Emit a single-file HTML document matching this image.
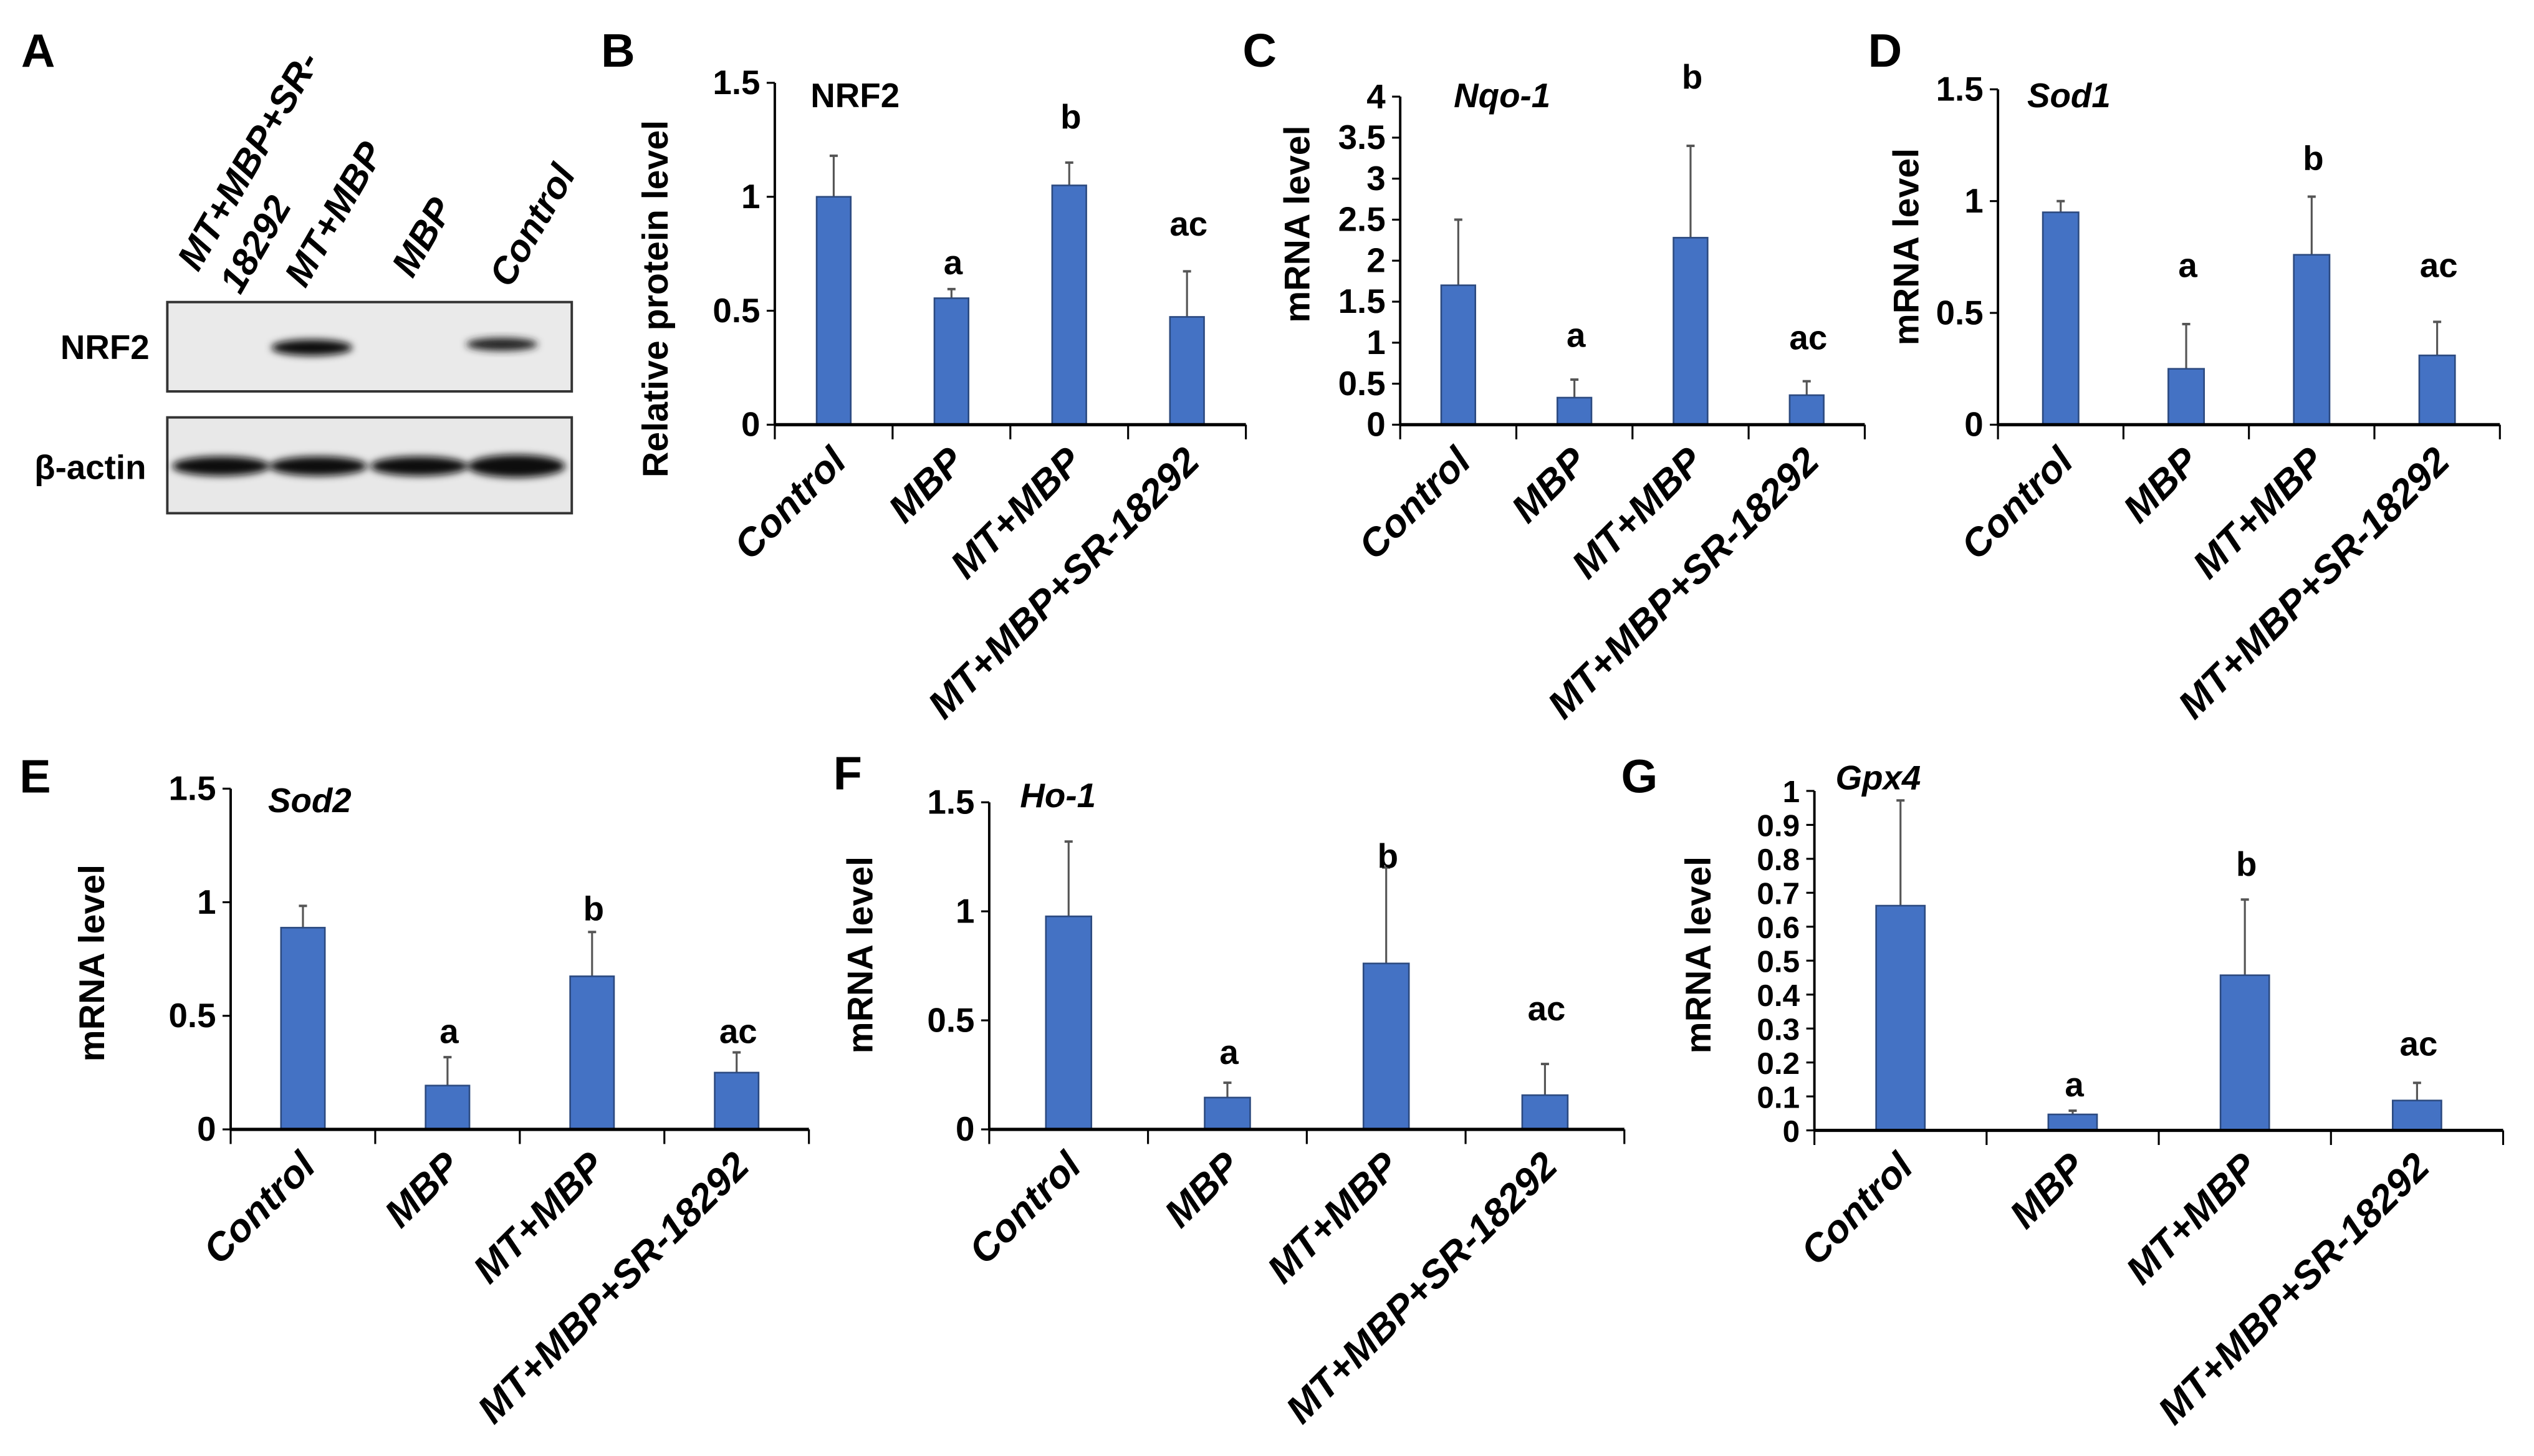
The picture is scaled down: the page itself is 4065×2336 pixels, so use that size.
<!DOCTYPE html>
<html><head><meta charset="utf-8">
<style>
html,body{margin:0;padding:0;background:#fff;}
svg{display:block;font-family:"Liberation Sans",Arial,sans-serif;}
</style></head>
<body>
<svg id="fig" width="4065" height="2336" viewBox="0 0 1560 896.5" preserveAspectRatio="none" xmlns="http://www.w3.org/2000/svg">
  <g>
    <text x="13" y="41" font-size="29" font-weight="bold">A</text>
    <g font-size="23" font-weight="bold" font-style="italic">
      <text transform="translate(122,168) rotate(-60)">MT+MBP+SR-</text>
      <text transform="translate(148,182) rotate(-60)">18292</text>
      <text transform="translate(188,178) rotate(-60)">MT+MBP</text>
      <text transform="translate(254,172) rotate(-60)">MBP</text>
      <text transform="translate(314,178) rotate(-60)">Control</text>
    </g>
    <text x="92" y="221" font-size="21" font-weight="bold" text-anchor="end">NRF2</text>
    <text x="90" y="295" font-size="21" font-weight="bold" text-anchor="end">β-actin</text>
    <defs>
      <filter id="blur" x="-20%" y="-50%" width="140%" height="200%"><feGaussianBlur stdDeviation="2.2"/></filter>
    </defs>
    <rect x="103" y="186" width="249" height="55" fill="#eaeaea" stroke="#333" stroke-width="1.5"/>
    <ellipse cx="192" cy="214" rx="25" ry="5" fill="#111" filter="url(#blur)"/>
    <ellipse cx="309" cy="212" rx="22" ry="4" fill="#222" filter="url(#blur)"/>
    <rect x="103" y="257" width="249" height="59" fill="#e8e8e8" stroke="#333" stroke-width="1.5"/>
    <g filter="url(#blur)" fill="#111">
      <ellipse cx="136" cy="287" rx="30" ry="6"/>
      <ellipse cx="196" cy="287" rx="30" ry="6"/>
      <ellipse cx="258" cy="287" rx="30" ry="6"/>
      <ellipse cx="318" cy="287" rx="30" ry="7"/>
    </g>
  </g>
</svg>
<script>
const categories = ["Control","MBP","MT+MBP","MT+MBP+SR-18292"];
// Panel B
const bValues = [1.0, 0.555, 1.05, 0.473];
const bErrors = [0.18, 0.04, 0.10, 0.20];
const bLetters = ["", "a", "b", "ac"];
const bLetterVals = [null, 0.66, 1.3, 0.83];
const bTicks = ["0","0.5","1","1.5"];
// Panel C
const cValues = [1.70, 0.33, 2.28, 0.36];
const cErrors = [0.80, 0.22, 1.12, 0.17];
const cLetters = ["", "a", "b", "ac"];
const cLetterVals = [null, 0.95, 4.1, 0.92];
const cTicks = ["0","0.5","1","1.5","2","2.5","3","3.5","4"];
// Panel D
const dValues = [0.95, 0.25, 0.76, 0.31];
const dErrors = [0.05, 0.20, 0.26, 0.15];
const dLetters = ["", "a", "b", "ac"];
const dLetterVals = [null, 0.66, 1.14, 0.66];
const dTicks = ["0","0.5","1","1.5"];
// Panel E
const eValues = [0.888, 0.193, 0.674, 0.25];
const eErrors = [0.096, 0.125, 0.195, 0.089];
const eLetters = ["", "a", "b", "ac"];
const eLetterVals = [null, 0.38, 0.92, 0.38];
const eTicks = ["0","0.5","1","1.5"];
// Panel F
const fValues = [0.977, 0.146, 0.761, 0.157];
const fErrors = [0.343, 0.068, 0.44, 0.143];
const fLetters = ["", "a", "b", "ac"];
const fLetterVals = [null, 0.3, 1.2, 0.5];
const fTicks = ["0","0.5","1","1.5"];
// Panel G
const gValues = [0.662, 0.047, 0.457, 0.088];
const gErrors = [0.31, 0.011, 0.223, 0.052];
const gLetters = ["", "a", "b", "ac"];
const gLetterVals = [null, 0.1, 0.75, 0.22];
const gTicks = ["0","0.1","0.2","0.3","0.4","0.5","0.6","0.7","0.8","0.9","1"];

const NS = "http://www.w3.org/2000/svg";
const svg = document.getElementById("fig");
function mk(tag, attrs, parent){
  const e = document.createElementNS(NS, tag);
  for (const k in attrs) e.setAttribute(k, attrs[k]);
  (parent||svg).appendChild(e);
  return e;
}

function panel(cfg){
  const g = mk("g", {});
  
  
  const {x0, x1, yTop, y0, max} = cfg;
  const yScale = v => y0 - (v / max) * (y0 - yTop);
  const step = (x1 - x0) / categories.length;
  const xCenter = i => x0 + step * (i + 0.5);
  const pl = mk("text", {x: cfg.lx, y: cfg.ly, "font-size": 29, "font-weight": "bold"}, g);
  pl.textContent = cfg.id.toUpperCase();
  
  
  const ya = mk("line", {x1: x0, y1: yTop, x2: x0, y2: y0, stroke: "#000", "stroke-width": 1.5}, g);
  
  
  cfg.ticks.forEach((t) => {
    const v = parseFloat(t);
    const y = yScale(v);
    const tk = mk("line", {x1: x0 - 5, y1: y, x2: x0, y2: y, stroke: "#000", "stroke-width": 1.2}, g);
    
    
    const tl = mk("text", {x: x0 - 9, y: y + 7, "font-size": cfg.tickFont || 21, "font-weight": "bold", "text-anchor": "end"}, g);
    tl.textContent = t;
    
    
  });
  cfg.values.forEach((v, i) => {
    const cx = xCenter(i);
    const top = yScale(v + cfg.errors[i]);
    const eb = mk("line", {x1: cx, y1: yScale(v), x2: cx, y2: top, stroke: "#555", "stroke-width": 1.2}, g);
    
    
    const ec = mk("line", {x1: cx - 2.5, y1: top, x2: cx + 2.5, y2: top, stroke: "#555", "stroke-width": 1.5}, g);
    
    
    const b = mk("rect", {x: cx - cfg.bw / 2, y: yScale(v), width: cfg.bw, height: y0 - yScale(v), fill: "#4472C4", stroke: "#2c4a80", "stroke-width": 1}, g);
    
    
    if (cfg.letters[i]) {
      const lt = mk("text", {x: cx + 1, y: yScale(cfg.letterVals[i]), "font-size": 21, "font-weight": "bold", "text-anchor": "middle"}, g);
      lt.textContent = cfg.letters[i];
      
      
    }
    const cl = mk("text", {transform: `translate(${cx + 9},${y0 + 24}) rotate(-45)`, "font-size": 24, "font-weight": "bold", "font-style": "italic", "text-anchor": "end"}, g);
    cl.textContent = categories[i];
    
    
  });
  const xa = mk("line", {x1: x0, y1: y0, x2: x1, y2: y0, stroke: "#000", "stroke-width": 2}, g);
  
  
  for (let i = 0; i <= categories.length; i++) {
    const xt = mk("line", {x1: x0 + step * i, y1: y0, x2: x0 + step * i, y2: y0 + 9, stroke: "#000", "stroke-width": 1.2}, g);
    
    
  }
  const tt = mk("text", {x: cfg.tx, y: cfg.ty, "font-size": 21, "font-weight": "bold", "font-style": cfg.italic ? "italic" : "normal"}, g);
  tt.textContent = cfg.title;
  
  
  const yt = mk("text", {transform: `translate(${cfg.ytx},${cfg.yty}) rotate(-90)`, "font-size": 22, "font-weight": "bold", "text-anchor": "middle"}, g);
  yt.textContent = cfg.ytitle;
  
  
}

panel({id:"b", x0:477, x1:767, yTop:51, y0:261.5, max:1.5, bw:21, values:bValues, errors:bErrors, letters:bLetters, letterVals:bLetterVals, ticks:bTicks,
  lx:370, ly:41, tx:499, ty:66, title:"NRF2", italic:false, ytitle:"Relative protein level", ytx:411, yty:184});
panel({id:"c", x0:862, x1:1148, yTop:59.5, y0:261.5, max:4, bw:21, values:cValues, errors:cErrors, letters:cLetters, letterVals:cLetterVals, ticks:cTicks,
  lx:765, ly:41, tx:895, ty:66, title:"Nqo-1", italic:true, ytitle:"mRNA level", ytx:806, yty:138});
panel({id:"d", x0:1230, x1:1539, yTop:55, y0:261.5, max:1.5, bw:22, values:dValues, errors:dErrors, letters:dLetters, letterVals:dLetterVals, ticks:dTicks,
  lx:1150, ly:41, tx:1248, ty:66, title:"Sod1", italic:true, ytitle:"mRNA level", ytx:1181, yty:152});
panel({id:"e", x0:142, x1:498, yTop:485.6, y0:695.4, max:1.5, bw:27, values:eValues, errors:eErrors, letters:eLetters, letterVals:eLetterVals, ticks:eTicks,
  lx:12, ly:488, tx:165, ty:500, title:"Sod2", italic:true, ytitle:"mRNA level", ytx:64, yty:593});
panel({id:"f", x0:609, x1:1000, yTop:494, y0:695.4, max:1.5, bw:28, values:fValues, errors:fErrors, letters:fLetters, letterVals:fLetterVals, ticks:fTicks,
  lx:513, ly:486, tx:628, ty:497, title:"Ho-1", italic:true, ytitle:"mRNA level", ytx:537, yty:588});
panel({id:"g", x0:1117, x1:1541, yTop:487, y0:696, max:1, bw:30, values:gValues, errors:gErrors, letters:gLetters, letterVals:gLetterVals, ticks:gTicks,
  lx:998, ly:488, tx:1130, ty:486, title:"Gpx4", italic:true, ytitle:"mRNA level", ytx:1053, yty:588, tickFont:19});
</script>
</body></html>
